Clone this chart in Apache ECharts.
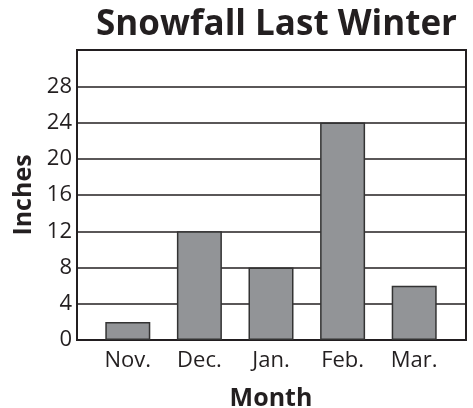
<!DOCTYPE html>
<html><head><meta charset="utf-8">
<script src="https://cdn.jsdelivr.net/npm/echarts@6/dist/echarts.min.js"></script>
<style>html,body{margin:0;padding:0;background:#fff}#c{width:473px;height:408px}</style>
</head><body><div id="c"></div>
<script>
const months = ['Nov.', 'Dec.', 'Jan.', 'Feb.', 'Mar.'];
const snowfall = [2, 12, 8, 24, 6];
const yTicks = [0, 4, 8, 12, 16, 20, 24, 28];
const ink = '#231f20';
const font = '"Open Sans", "Noto Sans", sans-serif';
const chart = echarts.init(document.getElementById('c'));
chart.setOption({
  animation: false,
  backgroundColor: '#fff',
  title: {
    text: 'Snowfall Last Winter', left: 271.5, textAlign: 'center', top: 3,
    textStyle: {fontFamily: font, fontSize: 35, fontWeight: 'bold', color: ink}
  },
  grid: [
    {left: 77, right: 7, top: 50, bottom: 68, show: true, borderColor: ink, borderWidth: 2,
     backgroundColor: '#fff', containLabel: false, outerBoundsMode: 'none'},
    {left: 92, right: 23, top: 50, bottom: 68, containLabel: false, outerBoundsMode: 'none'}
  ],
  xAxis: [
    {gridIndex: 0, type: 'value', show: false, min: 0, max: 1},
    {gridIndex: 1, type: 'category', data: months,
     axisLine: {show: false}, axisTick: {show: false},
     axisLabel: {fontFamily: font, fontSize: 22, color: ink, margin: 10},
     name: 'Month', nameLocation: 'middle', nameGap: 46,
     nameTextStyle: {fontFamily: font, fontSize: 25, fontWeight: 'bold', color: ink}}
  ],
  yAxis: [
    {gridIndex: 0, type: 'value', min: 0, max: 32, interval: 4,
     axisLine: {show: false}, axisTick: {show: false},
     axisLabel: {fontFamily: font, fontSize: 22, color: ink, margin: 5,
       formatter: v => yTicks.includes(v) ? String(v) : ''},
     splitLine: {show: true, lineStyle: {color: ink, width: 1.6}},
     name: 'Inches', nameLocation: 'middle', nameGap: 36,
     nameTextStyle: {fontFamily: font, fontSize: 25, fontWeight: 'bold', color: ink}},
    {gridIndex: 1, type: 'value', min: 0, max: 32, show: false}
  ],
  series: [{
    type: 'bar', xAxisIndex: 1, yAxisIndex: 1, data: snowfall, barWidth: 45,
    itemStyle: {color: '#929497', borderColor: '#333', borderWidth: 1.5},
    z: 5
  }]
});
</script></body></html>
